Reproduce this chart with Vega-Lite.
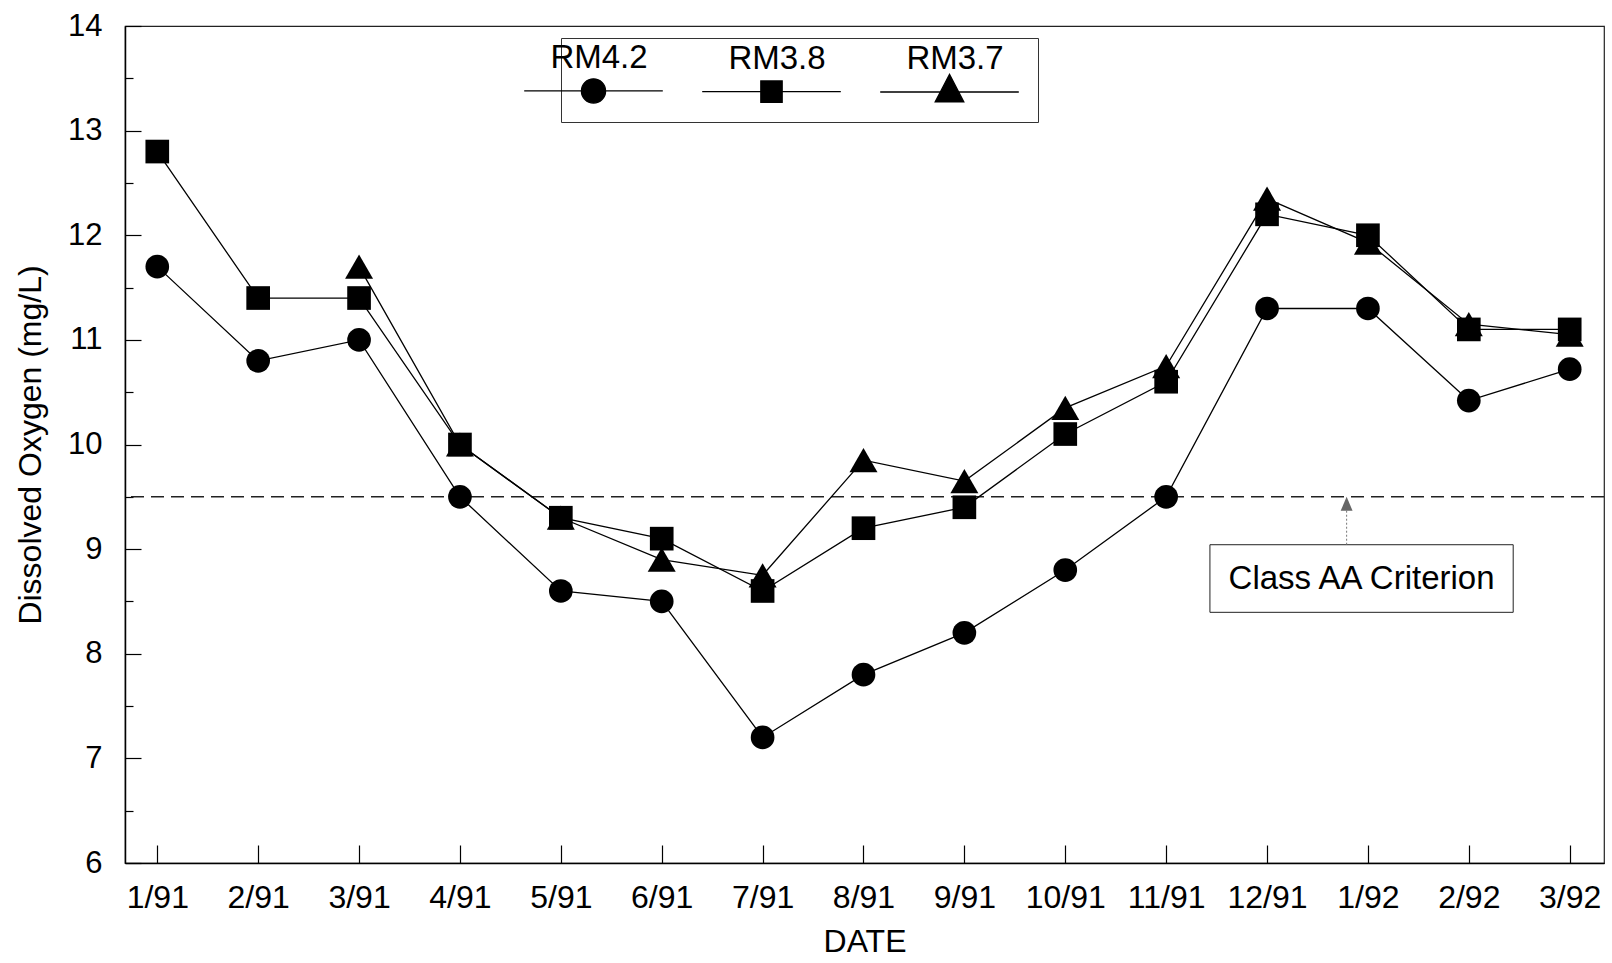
{
  "$schema": "https://vega.github.io/schema/vega-lite/v6.json",
  "width": 1479,
  "height": 837,
  "autosize": {"type": "none"},
  "padding": {"left": 125, "top": 26, "right": 8, "bottom": 100},
  "background": "white",
  "config": {
    "view": {"stroke": "#222", "strokeWidth": 1.2},
    "font": "Liberation Sans",
    "axis": {
      "domainColor": "black", "domainWidth": 1.5, "tickColor": "black", "tickWidth": 1.2,
      "labelColor": "black", "titleColor": "black", "labelFont": "Liberation Sans", "titleFont": "Liberation Sans",
      "titleFontWeight": "normal", "grid": false
    }
  },
  "resolve": {"axis": {"x": "independent", "y": "independent"}},
  "datasets": {
    "do": [
      {"i": 0, "date": "1/91", "site": "RM4.2", "do": 11.7},
      {"i": 1, "date": "2/91", "site": "RM4.2", "do": 10.8},
      {"i": 2, "date": "3/91", "site": "RM4.2", "do": 11.0},
      {"i": 3, "date": "4/91", "site": "RM4.2", "do": 9.5},
      {"i": 4, "date": "5/91", "site": "RM4.2", "do": 8.6},
      {"i": 5, "date": "6/91", "site": "RM4.2", "do": 8.5},
      {"i": 6, "date": "7/91", "site": "RM4.2", "do": 7.2},
      {"i": 7, "date": "8/91", "site": "RM4.2", "do": 7.8},
      {"i": 8, "date": "9/91", "site": "RM4.2", "do": 8.2},
      {"i": 9, "date": "10/91", "site": "RM4.2", "do": 8.8},
      {"i": 10, "date": "11/91", "site": "RM4.2", "do": 9.5},
      {"i": 11, "date": "12/91", "site": "RM4.2", "do": 11.3},
      {"i": 12, "date": "1/92", "site": "RM4.2", "do": 11.3},
      {"i": 13, "date": "2/92", "site": "RM4.2", "do": 10.42},
      {"i": 14, "date": "3/92", "site": "RM4.2", "do": 10.72},
      {"i": 0, "date": "1/91", "site": "RM3.8", "do": 12.8},
      {"i": 1, "date": "2/91", "site": "RM3.8", "do": 11.4},
      {"i": 2, "date": "3/91", "site": "RM3.8", "do": 11.4},
      {"i": 3, "date": "4/91", "site": "RM3.8", "do": 10.0},
      {"i": 4, "date": "5/91", "site": "RM3.8", "do": 9.3},
      {"i": 5, "date": "6/91", "site": "RM3.8", "do": 9.1},
      {"i": 6, "date": "7/91", "site": "RM3.8", "do": 8.6},
      {"i": 7, "date": "8/91", "site": "RM3.8", "do": 9.2},
      {"i": 8, "date": "9/91", "site": "RM3.8", "do": 9.4},
      {"i": 9, "date": "10/91", "site": "RM3.8", "do": 10.1},
      {"i": 10, "date": "11/91", "site": "RM3.8", "do": 10.6},
      {"i": 11, "date": "12/91", "site": "RM3.8", "do": 12.2},
      {"i": 12, "date": "1/92", "site": "RM3.8", "do": 12.0},
      {"i": 13, "date": "2/92", "site": "RM3.8", "do": 11.1},
      {"i": 14, "date": "3/92", "site": "RM3.8", "do": 11.1},
      {"i": 2, "date": "3/91", "site": "RM3.7", "do": 11.7},
      {"i": 3, "date": "4/91", "site": "RM3.7", "do": 10.0},
      {"i": 4, "date": "5/91", "site": "RM3.7", "do": 9.3},
      {"i": 5, "date": "6/91", "site": "RM3.7", "do": 8.9},
      {"i": 6, "date": "7/91", "site": "RM3.7", "do": 8.75},
      {"i": 7, "date": "8/91", "site": "RM3.7", "do": 9.85},
      {"i": 8, "date": "9/91", "site": "RM3.7", "do": 9.65},
      {"i": 9, "date": "10/91", "site": "RM3.7", "do": 10.35},
      {"i": 10, "date": "11/91", "site": "RM3.7", "do": 10.75},
      {"i": 11, "date": "12/91", "site": "RM3.7", "do": 12.35},
      {"i": 12, "date": "1/92", "site": "RM3.7", "do": 11.93},
      {"i": 13, "date": "2/92", "site": "RM3.7", "do": 11.15},
      {"i": 14, "date": "3/92", "site": "RM3.7", "do": 11.05}
    ],
    "note": [
      {"label": "Class AA Criterion", "left": 10.434, "right": 13.44, "bottom": 8.396, "top": 9.042, "cx": 11.937, "cy": 8.719, "ax": 11.789, "tip": 9.433}
    ]
  },
  "layer": [
    {
      "data": {"values": [{"criterion": 9.5}]},
      "mark": {"type": "rule", "color": "#222", "strokeWidth": 1.5, "strokeDash": [13, 7]},
      "encoding": {
        "y": {
          "field": "criterion", "type": "quantitative", "scale": {"domain": [6, 14], "nice": false, "zero": false},
          "axis": {"orient": "left", "title": null, "values": [6.5, 7.5, 8.5, 9.5, 10.5, 11.5, 12.5, 13.5], "labels": false, "domain": false, "tickSize": -8}
        }
      }
    },
    {
      "data": {"name": "do"},
      "mark": {"type": "line", "color": "black", "strokeWidth": 1.3},
      "encoding": {
        "x": {
          "field": "i", "type": "quantitative",
          "scale": {"domain": [-0.32, 14.34], "nice": false, "zero": false},
          "axis": {
            "orient": "bottom",
            "title": "DATE", "values": [0,1,2,3,4,5,6,7,8,9,10,11,12,13,14],
            "labelExpr": "datum.value < 12 ? (datum.value + 1) + '/91' : (datum.value - 11) + '/92'",
            "tickSize": -18, "labelPadding": 37, "labelFontSize": 32, "titleFontSize": 32, "titlePadding": 13, "labelFlush": false, "labelOverlap": false
          }
        },
        "y": {
          "field": "do", "type": "quantitative",
          "scale": {"domain": [6, 14], "nice": false, "zero": false},
          "axis": {
            "orient": "left",
            "title": "Dissolved Oxygen (mg/L)",
            "values": [6, 7, 8, 9, 10, 11, 12, 13, 14],
            "tickSize": -16,
            "labelPadding": 39, "labelFontSize": 31, "titleFontSize": 32, "titlePadding": 20, "labelOverlap": false, "labelFlush": false
          }
        },
        "detail": {"field": "site"}
      }
    },
    {
      "data": {"name": "do"},
      "transform": [{"calculate": "datum.site", "as": "station"}],
      "mark": {"type": "point", "filled": true, "opacity": 1, "strokeWidth": 0},
      "encoding": {
        "x": {"field": "i", "type": "quantitative", "scale": {"domain": [-0.32, 14.34], "nice": false, "zero": false}, "axis": null},
        "y": {"field": "do", "type": "quantitative", "scale": {"domain": [6, 14], "nice": false, "zero": false}, "axis": null},
        "shape": {
          "field": "station", "type": "nominal",
          "scale": {"domain": ["RM3.7", "RM3.8", "RM4.2"], "range": ["triangle-up", "square", "circle"]},
          "legend": null
        },
        "color": {
          "field": "site", "type": "nominal",
          "scale": {"domain": ["RM4.2", "RM3.8", "RM3.7"], "range": ["black", "black", "black"]},
          "legend": {
            "orient": "none", "legendX": 436, "legendY": 12, "direction": "horizontal", "columns": 3,
            "title": " ", "titleFontSize": 20, "titlePadding": 0,
            "strokeColor": "#333", "fillColor": "white", "padding": 16, "columnPadding": 33,
            "symbolSize": 484, "symbolStrokeWidth": 1.3,
            "labelFont": "Liberation Sans", "labelFontSize": 33, "labelColor": "black", "labelAlign": "center",
            "labelBaseline": "middle", "labelOffset": -11, "labelLimit": 300,
            "encoding": {
              "labels": {"dy": {"value": -33}},
              "symbols": {
                "size": {"value": 484},
                "stroke": {"value": "black"},
                "strokeWidth": {"value": 1.3},
                "shape": {"value": {"expr": "datum.value === 'RM4.2' ? 'M-6.3,0H6.3M1.1,0A1.1,1.1,0,1,1,-1.1,0A1.1,1.1,0,1,1,1.1,0Z' : (datum.value === 'RM3.8' ? 'M-6.3,0H6.3M-0.97,-0.97H0.97V0.97H-0.97Z' : 'M-6.3,0H6.3M0,-1.6L1.3,0.9L-1.3,0.9Z')"}}
              }
            }
          }
        },
        "size": {"condition": {"test": "datum.site === 'RM3.7'", "value": 784}, "value": 560}
      }
    },
    {
      "data": {"name": "note"},
      "mark": {"type": "rect", "fill": "white", "stroke": "#222", "strokeWidth": 1},
      "encoding": {
        "x": {"field": "left", "type": "quantitative", "scale": {"domain": [-0.32, 14.34], "nice": false, "zero": false}, "axis": null},
        "x2": {"field": "right"},
        "y": {"field": "bottom", "type": "quantitative", "scale": {"domain": [6, 14], "nice": false, "zero": false}, "axis": null},
        "y2": {"field": "top"}
      }
    },
    {
      "data": {"name": "note"},
      "mark": {"type": "text", "font": "Liberation Sans", "fontSize": 33, "color": "black", "align": "center", "baseline": "middle"},
      "encoding": {
        "x": {"field": "cx", "type": "quantitative", "scale": {"domain": [-0.32, 14.34], "nice": false, "zero": false}, "axis": null},
        "y": {"field": "cy", "type": "quantitative", "scale": {"domain": [6, 14], "nice": false, "zero": false}, "axis": null},
        "text": {"field": "label"}
      }
    },
    {
      "data": {"name": "note"},
      "mark": {"type": "rule", "color": "#777", "strokeWidth": 1, "strokeDash": [2, 2]},
      "encoding": {
        "x": {"field": "ax", "type": "quantitative", "scale": {"domain": [-0.32, 14.34], "nice": false, "zero": false}, "axis": null},
        "y": {"field": "top", "type": "quantitative", "scale": {"domain": [6, 14], "nice": false, "zero": false}, "axis": null},
        "y2": {"field": "tip"}
      }
    },
    {
      "data": {"name": "note"},
      "mark": {"type": "point", "filled": true, "color": "#666", "opacity": 1, "shape": "M0,-1L0.85,1L-0.85,1Z", "size": 196, "strokeWidth": 0},
      "encoding": {
        "x": {"field": "ax", "type": "quantitative", "scale": {"domain": [-0.32, 14.34], "nice": false, "zero": false}, "axis": null},
        "y": {"field": "tip", "type": "quantitative", "scale": {"domain": [6, 14], "nice": false, "zero": false}, "axis": null}
      }
    }
  ]
}
